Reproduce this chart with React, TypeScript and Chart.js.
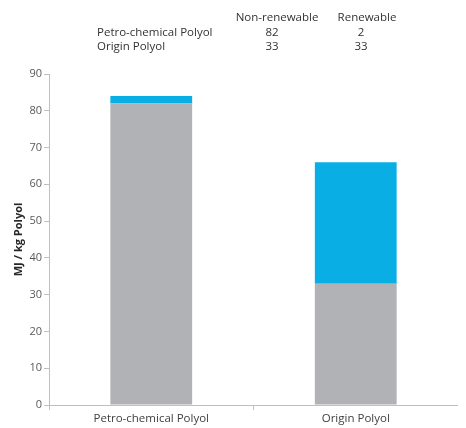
import React, { useEffect, useRef } from "react";
import { Chart, registerables } from "chart.js";

Chart.register(...registerables);

const categories = ["Petro-chemical Polyol", "Origin Polyol"];
const nonRenewable = [82, 33];
const renewable = [2, 33];
const seriesNames = ["Non-renewable", "Renewable"];
const yTitle = "MJ / kg Polyol";

const FONT = "'Open Sans', 'Noto Sans', sans-serif";

export default function App() {
  const ref = useRef<HTMLCanvasElement | null>(null);
  useEffect(() => {
    if (!ref.current) return;
    const chart = new Chart(ref.current, {
      type: "bar",
      data: {
        labels: categories,
        datasets: [
          { label: seriesNames[0], data: nonRenewable, backgroundColor: "#B1B2B6", categoryPercentage: 0.8, barPercentage: 0.5 },
          { label: seriesNames[1], data: renewable, backgroundColor: "#09AEE5", categoryPercentage: 0.8, barPercentage: 0.5 },
        ],
      },
      options: {
        animation: false,
        responsive: false,
        layout: { padding: { top: 66, right: 0, left: 0, bottom: 0 } },
        plugins: { legend: { display: false }, tooltip: { enabled: false } },
        scales: {
          x: {
            stacked: true,
            grid: { display: true, drawOnChartArea: false, drawTicks: true, tickLength: 5, color: "#BFBFBF", offset: true },
            border: { color: "#BFBFBF" },
            ticks: { color: "#404040", font: { family: FONT, size: 11.5 }, padding: 2 },
            afterFit: (s: any) => { s.height = 23; },
          },
          y: {
            stacked: true,
            min: 0,
            max: 90,
            grid: { display: true, drawOnChartArea: false, drawTicks: true, tickLength: 5, color: "#BFBFBF" },
            border: { color: "#BFBFBF" },
            ticks: { stepSize: 10, color: "#595959", font: { family: FONT, size: 11 }, padding: 2 },
            title: { display: true, text: yTitle, color: "#262626", font: { family: FONT, size: 11, weight: "bold" }, padding: { top: 4, bottom: 0 } },
            afterFit: (s: any) => { s.width = 41; },
          },
        },
      },
    });
    return () => chart.destroy();
  }, []);

  const cell: React.CSSProperties = { position: "absolute", whiteSpace: "nowrap", fontFamily: FONT, fontSize: 11.5, color: "#333", lineHeight: "14px" };
  const rows = [
    { name: categories[0], a: nonRenewable[0], b: renewable[0] },
    { name: categories[1], a: nonRenewable[1], b: renewable[1] },
  ];
  return (
    <div style={{ position: "relative", width: 450, height: 420 }}>
      <canvas ref={ref} width={450} height={420} style={{ display: "block" }} />
      <div style={{ ...cell, left: 269, top: 2, transform: "translateX(-50%)" }}>{seriesNames[0]}</div>
      <div style={{ ...cell, left: 359, top: 2, transform: "translateX(-50%)" }}>{seriesNames[1]}</div>
      {rows.map((r, i) => (
        <React.Fragment key={r.name}>
          <div style={{ ...cell, left: 89, top: 17 + i * 14 }}>{r.name}</div>
          <div style={{ ...cell, left: 264, top: 17 + i * 14, transform: "translateX(-50%)" }}>{r.a}</div>
          <div style={{ ...cell, left: 353, top: 17 + i * 14, transform: "translateX(-50%)" }}>{r.b}</div>
        </React.Fragment>
      ))}
    </div>
  );
}
